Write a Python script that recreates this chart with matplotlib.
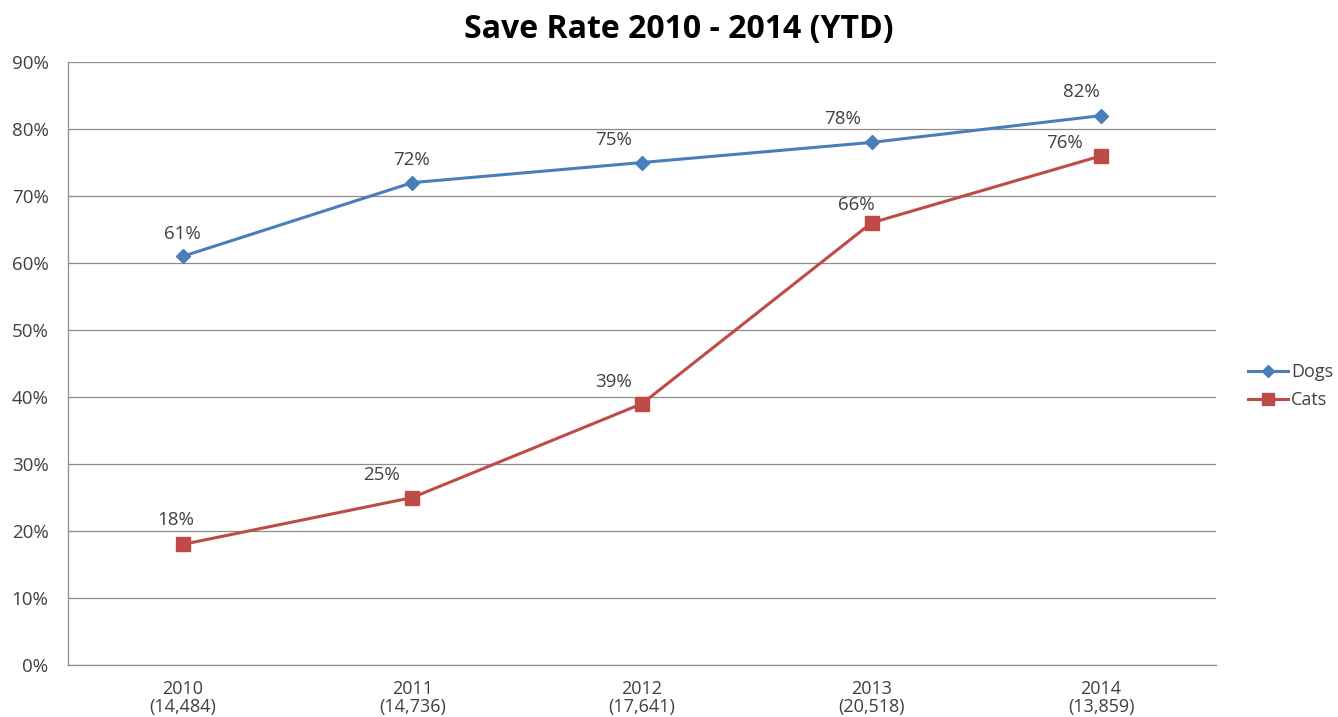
import matplotlib.pyplot as plt
from matplotlib.ticker import PercentFormatter

# data
years = ["2010", "2011", "2012", "2013", "2014"]
counts = ["14,484", "14,736", "17,641", "20,518", "13,859"]
dogs = [61, 72, 75, 78, 82]
cats = [18, 25, 39, 66, 76]

# label placement (pixels, label centre relative to its point), like Excel's
dogs_off = [(0, 22), (-1, 23), (-28, 23), (-29, 23), (-20, 24)]
cats_off = [(-7, 24), (-31, 23), (-28, 22), (-15, 18), (-37, 13)]

plt.rcParams['font.family'] = ['Open Sans', 'DejaVu Sans']

fig = plt.figure(figsize=(13.38, 7.17), dpi=100)
ax = fig.add_axes([0.0508, 0.0725, 0.858, 0.841])

x = list(range(len(years)))
blue = '#4A7EBB'
red = '#BE4B48'
txt = '#404040'

ax.plot(x, dogs, color=blue, linewidth=2.2, marker='D', markersize=7, label='Dogs')
ax.plot(x, cats, color=red, linewidth=2.2, marker='s', markersize=10, label='Cats')

px = 0.72  # points per pixel at dpi 100
for series, offs in ((dogs, dogs_off), (cats, cats_off)):
    for xi, v, (dx, dy) in zip(x, series, offs):
        ax.annotate(f"{v}%", (xi, v), xytext=(dx * px, dy * px), textcoords='offset points',
                    ha='center', va='center', fontsize=13.5, color=txt)

ax.set_xlim(-0.5, 4.5)
ax.set_ylim(0, 90)
ax.set_yticks(range(0, 91, 10))
ax.yaxis.set_major_formatter(PercentFormatter(decimals=0))
ax.set_xticks(x)
ax.set_xticklabels([f"{y}\n({c})" for y, c in zip(years, counts)], fontsize=13,
                   color=txt, linespacing=1.0)
ax.tick_params(axis='y', labelsize=13.5, labelcolor=txt, length=0, pad=14)
ax.tick_params(axis='x', length=0, pad=11)

ax.grid(axis='y', color='#8c8c8c', linewidth=0.9)
ax.set_axisbelow(True)
for side in ['top', 'right']:
    ax.spines[side].set_visible(False)
for side in ['left', 'bottom']:
    ax.spines[side].set_color('#8c8c8c')
    ax.spines[side].set_linewidth(0.9)

fig.suptitle("Save Rate 2010 - 2014 (YTD)", x=0.507, y=0.982, fontsize=23,
             fontweight='bold', color='black')

fig.legend(loc='center left', bbox_to_anchor=(0.9327, 0.4616), frameon=False,
           borderpad=0, borderaxespad=0, fontsize=13, handlelength=2.2,
           handletextpad=0.2, labelspacing=0.55, markerscale=0.9, labelcolor=txt)

fig.savefig('out.png', dpi=100)
